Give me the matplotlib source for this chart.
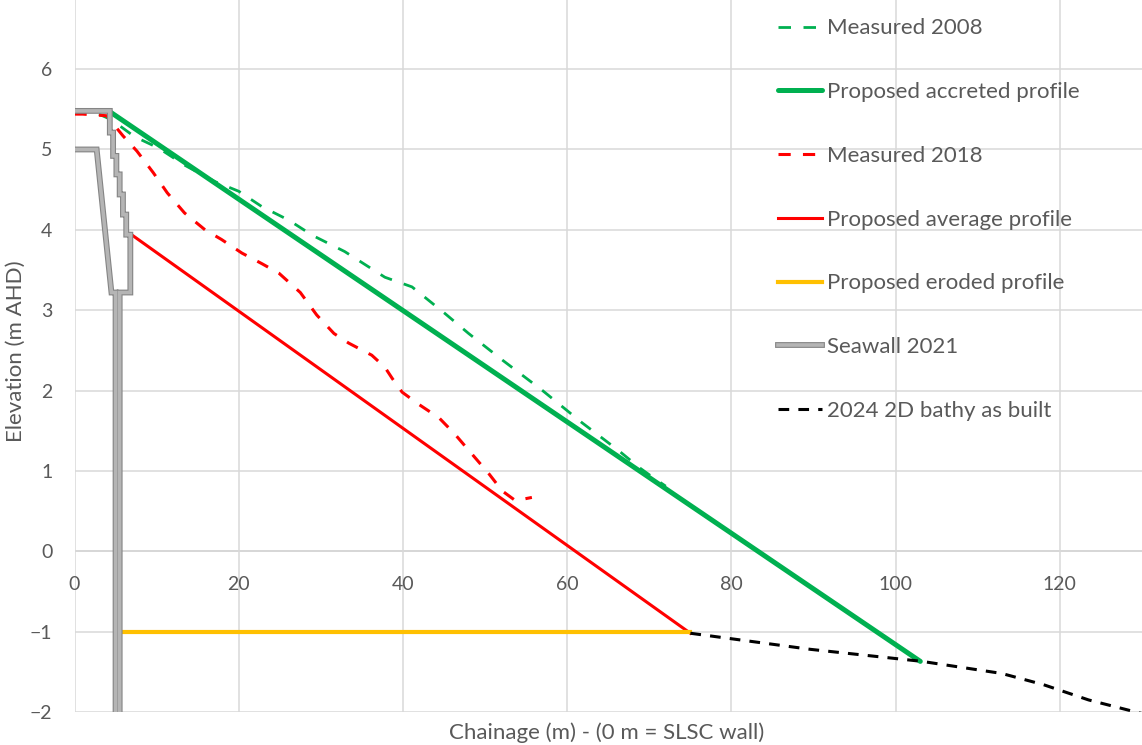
import matplotlib
matplotlib.use("Agg")
import matplotlib.pyplot as plt
import matplotlib.patheffects as pe

plt.rcParams['font.family'] = ['Lato', 'DejaVu Sans']

# chainage (m) / elevation (m AHD)
measured_2008_x = [0, 2.3, 4.5, 7.3, 10.2, 13.5, 17.1, 20, 22.8, 26.1, 29, 32.9, 37.8,
                   41.1, 45.1, 48, 52.1, 57, 61.8, 66.3, 68.8, 70.7, 72]
measured_2008_y = [5.48, 5.47, 5.37, 5.16, 5.02, 4.8, 4.6, 4.48, 4.29, 4.12, 3.93, 3.73, 3.41,
                   3.29, 2.96, 2.71, 2.38, 2.0, 1.6, 1.25, 1.04, 0.9, 0.81]

accreted_x = [4.3, 103]
accreted_y = [5.47, -1.37]

measured_2018_x = [0, 1.0, 3.9, 5.9, 7.6, 9.6, 11.3, 13.4, 15.9, 17.9, 20.4, 22.8, 24.9,
                   27.5, 29.5, 31.6, 33.4, 36.2, 37.8, 38.7, 39.9, 41.9, 44.4, 46.3, 48.4,
                   50.5, 52.1, 53.7, 55.7]
measured_2018_y = [5.44, 5.44, 5.42, 5.17, 4.98, 4.71, 4.46, 4.21, 4.0, 3.88, 3.71, 3.58, 3.46,
                   3.22, 2.94, 2.71, 2.59, 2.44, 2.29, 2.15, 1.98, 1.83, 1.66, 1.46, 1.21,
                   0.96, 0.75, 0.63, 0.67]

average_x = [6.8, 75]
average_y = [3.95, -1.02]

eroded_x = [5.4, 75]
eroded_y = [-1.0, -1.0]

seawall_x = [0, 2.7, 4.5, 5.0, 5.0, 5.5, 5.5, 6.8, 6.8, 6.3, 6.3, 5.9, 5.9, 5.5, 5.5,
             5.1, 5.1, 4.7, 4.7, 4.3, 4.3, 0]
seawall_y = [5.0, 5.0, 3.22, 3.22, -2.2, -2.2, 3.22, 3.22, 3.94, 3.94, 4.19, 4.19, 4.44,
             4.44, 4.69, 4.69, 4.92, 4.92, 5.21, 5.21, 5.48, 5.48]

bathy_x = [75, 89.6, 103.2, 112.9, 118, 123.5, 130]
bathy_y = [-1.02, -1.22, -1.37, -1.52, -1.66, -1.85, -2.02]

x_ticks = [0, 20, 40, 60, 80, 100, 120]
y_ticks = [-2, -1, 0, 1, 2, 3, 4, 5, 6]

text_grey = '#595959'
grid_grey = '#d9d9d9'

fig = plt.figure(figsize=(11.42, 7.45), dpi=100)
ax = fig.add_axes([74.5 / 1142, 33 / 745, 1 - 74.5 / 1142, 712 / 745])

ax.plot(measured_2008_x, measured_2008_y, color='#00B050', lw=2.0, dashes=(4.5, 4.5),
        label='Measured 2008')
ax.plot(accreted_x, accreted_y, color='#00B050', lw=3.6, solid_capstyle='round',
        label='Proposed accreted profile')
ax.plot(measured_2018_x, measured_2018_y, color='#FF0000', lw=2.2, dashes=(4, 4),
        label='Measured 2018')
ax.plot(average_x, average_y, color='#FF0000', lw=2.2, label='Proposed average profile')
ax.plot(eroded_x, eroded_y, color='#FFC000', lw=3.0, label='Proposed eroded profile')
ax.plot(seawall_x, seawall_y, color='#b5b5b5', lw=2.6, solid_joinstyle='miter',
        path_effects=[pe.Stroke(linewidth=4.2, foreground='#858585'), pe.Normal()],
        label='Seawall 2021')
ax.plot(bathy_x, bathy_y, color='black', lw=2.2, dashes=(3.5, 3),
        label='2024 2D bathy as built')

ax.set_xlim(0, 130)
ax.set_ylim(-2, 6.86)
ax.set_xticks(x_ticks)
ax.set_yticks(y_ticks)
ax.grid(True, color=grid_grey, lw=1.1)
ax.set_axisbelow(True)
ax.axhline(0, color='#c8c8c8', lw=1.2, zorder=0.5)
for s in ax.spines.values():
    s.set_visible(False)
ax.spines['bottom'].set_position(('data', 0))
ax.tick_params(length=0, labelsize=14, labelcolor=text_grey)
ax.tick_params(axis='x', pad=18)
ax.tick_params(axis='y', pad=16)

fig.text(16 / 1142, 1 - 351 / 745, 'Elevation (m AHD)', rotation=90, ha='center',
         va='center', fontsize=16, color=text_grey)
fig.text(607 / 1142, 1 - 733 / 745, 'Chainage (m) - (0 m = SLSC wall)', ha='center',
         va='center', fontsize=16, color=text_grey)

leg = ax.legend(loc='upper left', bbox_to_anchor=(0.6506, 0.9867), frameon=False,
                fontsize=16, labelcolor=text_grey, handlelength=2.0, handletextpad=0.22,
                labelspacing=1.97, borderaxespad=0)

fig.savefig('out.png', dpi=100)
